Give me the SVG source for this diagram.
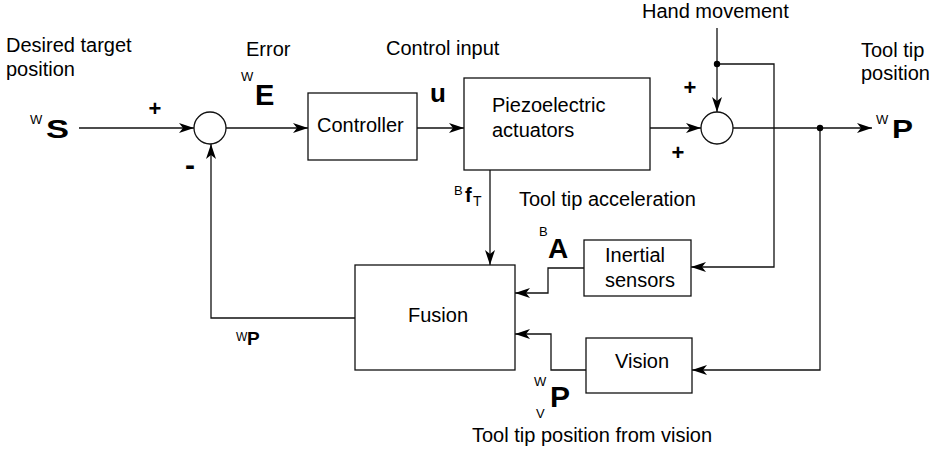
<svg xmlns="http://www.w3.org/2000/svg" width="944" height="454" viewBox="0 0 944 454">
<defs>
<style>
text{font-family:"Liberation Sans",Arial,sans-serif;fill:#000}
.t{font-size:20px}
.s{font-size:13px}
.b{font-weight:bold}
.box{fill:#fff;stroke:#111;stroke-width:1.3}
.ln{fill:none;stroke:#111;stroke-width:1.3}
</style>
<marker id="ah" markerUnits="userSpaceOnUse" markerWidth="16" markerHeight="12" refX="15" refY="6" orient="auto">
<path d="M0,1 L15,6 L0,11 L4,6 Z" fill="#000"/>
</marker>
</defs>
<rect width="944" height="454" fill="#fff"/>

<g id="connectors" class="ln" marker-end="url(#ah)">
<path d="M79,128 H194"/>
<path d="M226,128 H308"/>
<path d="M417,128 H464"/>
<path d="M650,128 H701"/>
<path d="M717,28 V112"/>
<path d="M717,64 H774 V267 H691"/>
<path d="M733,128 H872"/>
<path d="M820,128 V370 H692"/>
<path d="M490,170 V265"/>
<path d="M584,268 H548 V293 H515"/>
<path d="M586,370 H551 V334 H515"/>
<path d="M355,318 H211 V144"/>
</g>
<g id="dots">
<circle cx="717" cy="64" r="3.2" fill="#000"/>
<circle cx="820" cy="128" r="3.2" fill="#000"/>
</g>

<g id="sum1"><circle cx="210" cy="128" r="16" class="box"/></g>
<g id="sum2"><circle cx="717" cy="128" r="16" class="box"/></g>

<g id="controller"><rect x="308" y="93" width="109" height="67" class="box"/><text class="t" x="317" y="132">Controller</text></g>
<g id="piezo"><rect x="464" y="78" width="186" height="92" class="box"/><text class="t" x="492" y="112">Piezoelectric</text><text class="t" x="492" y="137">actuators</text></g>
<g id="fusion"><rect x="355" y="265" width="160" height="105" class="box"/><text class="t" x="408" y="322">Fusion</text></g>
<g id="inertial"><rect x="584" y="240" width="107" height="56" class="box"/><text class="t" x="605" y="262">Inertial</text><text class="t" x="605" y="287">sensors</text></g>
<g id="vision"><rect x="586" y="338" width="106" height="55" class="box"/><text class="t" x="615" y="368">Vision</text></g>

<g id="labels">
<text class="t" x="6" y="52">Desired target</text>
<text class="t" x="6" y="76">position</text>
<text class="t" x="246" y="56">Error</text>
<text class="t" x="386" y="55">Control input</text>
<text class="t" x="642" y="18">Hand movement</text>
<text class="t" x="861" y="57">Tool tip</text>
<text class="t" x="861" y="80">position</text>
<text class="t" x="519" y="206">Tool tip acceleration</text>
<text class="t" x="472" y="442">Tool tip position from vision</text>

<text class="b" font-size="22" x="155" y="116" text-anchor="middle">+</text>
<text class="b" font-size="30" x="190" y="175" text-anchor="middle">-</text>
<text class="b" font-size="22" x="690" y="95" text-anchor="middle">+</text>
<text class="b" font-size="22" x="678" y="160" text-anchor="middle">+</text>

<text class="s" x="30" y="124">W</text>
<text class="b" font-size="26" x="46" y="138" textLength="23" lengthAdjust="spacingAndGlyphs">S</text>
<text class="s" x="241" y="81">W</text>
<text class="b" font-size="29" x="255" y="105">E</text>
<text class="b" font-size="26" x="430" y="102">u</text>
<text class="s" x="454" y="195">B</text>
<text class="b" font-size="20" x="465" y="202">f</text>
<text font-size="14" x="473" y="206">T</text>
<text class="s" x="539" y="236">B</text>
<text class="b" font-size="28" x="548" y="258">A</text>
<text class="s" x="534" y="386">W</text>
<text class="b" font-size="30" x="550" y="407">P</text>
<text class="s" x="536" y="418">V</text>
<text class="s" x="876" y="124">W</text>
<text class="b" font-size="25" x="892" y="138" textLength="21" lengthAdjust="spacingAndGlyphs">P</text>
<text font-size="12" x="236" y="341">W</text>
<text class="b" font-size="19" x="247" y="345">P</text>
</g>
</svg>
